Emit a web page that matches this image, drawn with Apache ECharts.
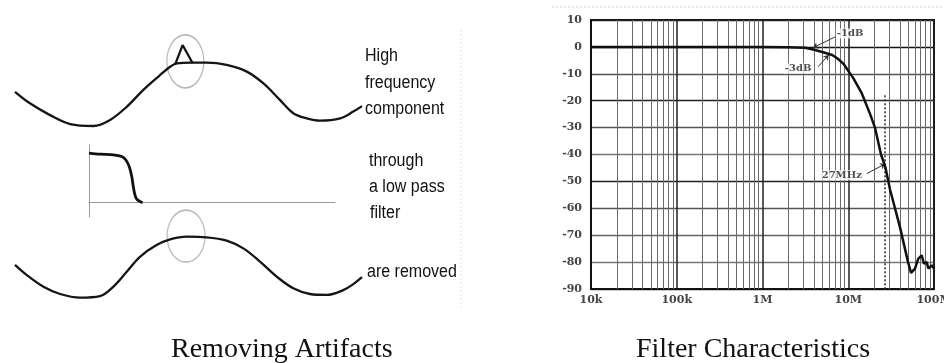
<!DOCTYPE html>
<html>
<head>
<meta charset="utf-8">
<script src="https://cdn.jsdelivr.net/npm/echarts@6/dist/echarts.min.js"></script>
<style>
  html, body { margin: 0; padding: 0; background: #fff; }
  #chart { width: 944px; height: 363px; }
</style>
</head>
<body>
<div id="chart"></div>
<script>
// ---- Left panel: slow wave with a short high-frequency spike on its crest ----
const noisyTime  = [0, 4.3, 10.1, 15.9, 22.6, 27.4, 32.2, 37.0, 41.8, 44.7, 46.6, 50.9, 55.2, 61.0, 66.8, 71.6, 76.4, 80.2, 84.1, 87.9, 93.7, 97.5, 100];
const noisyLevel = [0.07, -0.29, -0.66, -0.94, -1.0, -0.81, -0.40, 0.13, 0.59, 0.85, 0.96, 0.98, 0.98, 0.91, 0.70, 0.33, -0.19, -0.60, -0.76, -0.83, -0.76, -0.55, -0.38];
const spikeTime  = [46.1, 48.3, 51.2];
const spikeLevel = [0.91, 1.53, 0.96];

// Sketch of the low pass response (gain vs. frequency, arbitrary units)
const sketchFreq = [0, 0.45, 0.99, 1.33, 1.50, 1.64, 1.74, 1.80, 1.87, 1.94, 2.07, 2.18];
const sketchGain = [0.86, 0.84, 0.83, 0.80, 0.74, 0.62, 0.45, 0.28, 0.13, 0.06, 0.02, 0.0];

// Same wave after filtering: the spike is gone
const cleanTime  = [0, 3.4, 8.2, 13.0, 18.7, 24.5, 28.3, 32.2, 36.0, 40.8, 44.7, 49.5, 55.2, 61.0, 65.8, 70.6, 75.4, 80.2, 85.0, 89.8, 94.6, 97.5, 100];
const cleanLevel = [0.07, -0.27, -0.66, -0.90, -1.02, -0.97, -0.66, -0.16, 0.34, 0.73, 0.92, 1.01, 0.99, 0.88, 0.62, 0.18, -0.32, -0.71, -0.90, -0.93, -0.77, -0.57, -0.34];

// Circled regions (centre time, centre level)
const spikeCircle = [49.1, 1.02];
const cleanCircle = [49.3, 1.03];

// ---- Right panel: measured filter response ----
const respFreq = [1e4, 1e5, 1e6, 2e6, 3.13e6, 3.8e6, 5.1e6, 6.5e6, 7.5e6, 8.75e6, 11.5e6, 14.4e6, 17.9e6, 20.5e6, 24.1e6, 27e6, 30.7e6, 40.1e6, 49.8e6, 54e6, 60e6, 65.6e6, 71.9e6, 76.4e6, 82.2e6, 85.9e6, 94e6, 1e8];
const respGain = [0, 0, 0, -0.1, -0.3, -0.9, -2, -3, -4.3, -6.2, -11.7, -17.3, -24.8, -30, -40, -44.5, -53, -67, -80, -84, -82.4, -78.7, -77.5, -80.6, -80, -82.4, -81.2, -82.4];

const freqTickLabels = ['10k', '100k', '1M', '10M', '100M'];
const gainMin = -90, gainMax = 10, gainStep = 10;

// Callouts on the response curve
const noteText = ['-1dB', '-3dB', '27MHz'];
const noteAt   = [[10.5e6, 5], [2.6e6, -8], [8.4e6, -47.7]];
const leaderFrom = [[7.0e6, 3.7], [4.45e6, -7.4], [16.4e6, -47.1]];
const leaderTo   = [[3.9e6, -0.3], [5.9e6, -3], [27e6, -43.5]];
const markerFreq = 27e6;
const markerSpan = [-18, -90];

// log-paper minor grid: 2..9 in every decade
const minorFreqs = [];
for (let d = 1e4; d < 1e8; d *= 10) {
  for (let m = 2; m <= 9; m++) minorFreqs.push(m * d);
}

const pairs = (xs, ys) => xs.map((x, i) => [x, ys[i]]);

const chart = echarts.init(document.getElementById('chart'), null, { renderer: 'canvas' });

const sideText = (txt, x, y) => ({
  type: 'text', x: x, y: y, scaleX: 0.89,
  style: { text: txt, font: '18px "Liberation Sans", Arial, sans-serif', fill: '#111',
           align: 'left', verticalAlign: 'middle' }
});
const caption = (txt, x) => ({
  type: 'text', x: x, y: 350,
  style: { text: txt, font: '28px "Liberation Serif", "Times New Roman", serif', fill: '#111',
           align: 'left', verticalAlign: 'middle' }
});

const hiddenX = (g, max) => ({ gridIndex: g, type: 'value', min: 0, max: max, show: false });
const hiddenY = (g, min, max) => ({ gridIndex: g, type: 'value', min: min, max: max, show: false });

const waveLine = {
  type: 'line', symbol: 'none', smooth: 0.35, silent: true,
  lineStyle: { color: '#151515', width: 2.3 }
};
const circle = {
  type: 'scatter', symbol: 'circle', silent: true,
  itemStyle: { color: 'rgba(0,0,0,0)', borderColor: '#a8a8a8', borderWidth: 1.4 }
};

const option = {
  animation: false,
  backgroundColor: '#fff',
  grid: [
    { left: 15, top: 30, width: 347, height: 112, outerBoundsMode: 'none' },
    { left: 89, top: 145, width: 246, height: 72, outerBoundsMode: 'none' },
    { left: 15, top: 222, width: 347, height: 90, outerBoundsMode: 'none' },
    { left: 591, top: 20, width: 343, height: 269, show: true, outerBoundsMode: 'none',
      containLabel: false,
      backgroundColor: '#fff', borderColor: '#111', borderWidth: 2 }
  ],
  xAxis: [
    hiddenX(0, 100),
    { gridIndex: 1, type: 'value', min: 0, max: 10,
      axisLine: { show: true, onZero: true, lineStyle: { color: '#9a9a9a', width: 1 } },
      axisTick: { show: false }, axisLabel: { show: false }, splitLine: { show: false } },
    hiddenX(2, 100),
    { gridIndex: 3, type: 'log', logBase: 10, min: 1e4, max: 1e8,
      axisLine: { show: true, onZero: false, lineStyle: { color: '#111', width: 2 } },
      axisTick: { show: false },
      axisLabel: {
        margin: 6, fontSize: 11, fontWeight: 'bold', color: '#444',
        fontFamily: '"DejaVu Serif", serif',
        formatter: v => freqTickLabels[Math.round(Math.log10(v)) - 4] || ''
      },
      splitLine: { show: true, lineStyle: { color: '#222', width: 1.5 } }
    }
  ],
  yAxis: [
    hiddenY(0, -1.5, 2.0),
    { gridIndex: 1, type: 'value', min: -0.25, max: 1,
      axisLine: { show: true, onZero: true, lineStyle: { color: '#9a9a9a', width: 1 } },
      axisTick: { show: false }, axisLabel: { show: false }, splitLine: { show: false } },
    hiddenY(2, -1.5, 1.5),
    { gridIndex: 3, type: 'value', min: gainMin, max: gainMax, interval: gainStep,
      axisLine: { show: true, onZero: false, lineStyle: { color: '#111', width: 2 } },
      axisTick: { show: false },
      axisLabel: { margin: 9, fontSize: 11, fontWeight: 'bold', color: '#444',
                   fontFamily: '"DejaVu Serif", serif' },
      splitLine: { show: true, lineStyle: {
        color: ['#333', '#777', '#666', '#555', '#222', '#777', '#555', '#222', '#555', '#111', '#222'],
        width: 1.3 } }
    }
  ],
  series: [
    Object.assign({}, waveLine, { name: 'signal', xAxisIndex: 0, yAxisIndex: 0,
      data: pairs(noisyTime, noisyLevel) }),
    Object.assign({}, waveLine, { name: 'spike', xAxisIndex: 0, yAxisIndex: 0, smooth: false,
      data: pairs(spikeTime, spikeLevel) }),
    Object.assign({}, circle, { name: 'spike ring', xAxisIndex: 0, yAxisIndex: 0,
      symbolSize: [37, 53], data: [spikeCircle] }),
    { type: 'line', name: 'low pass', xAxisIndex: 1, yAxisIndex: 1, symbol: 'none', silent: true,
      smooth: 0.3, lineStyle: { color: '#111', width: 2.8 },
      data: pairs(sketchFreq, sketchGain) },
    Object.assign({}, waveLine, { name: 'filtered', xAxisIndex: 2, yAxisIndex: 2,
      data: pairs(cleanTime, cleanLevel) }),
    Object.assign({}, circle, { name: 'clean ring', xAxisIndex: 2, yAxisIndex: 2,
      symbolSize: [38, 52], data: [cleanCircle] }),

    // minor log grid lines
    { type: 'line', name: 'minor grid', xAxisIndex: 3, yAxisIndex: 3, data: [], silent: true, z: 1,
      markLine: { silent: true, symbol: ['none', 'none'], label: { show: false },
                  lineStyle: { color: '#6a6a6a', width: 1, type: 'solid' },
                  data: minorFreqs.map(f => ({ xAxis: f })) } },

    { type: 'line', name: 'response', xAxisIndex: 3, yAxisIndex: 3, symbol: 'none', silent: true,
      z: 5, lineStyle: { color: '#111', width: 2.5 },
      data: pairs(respFreq, respGain),
      markLine: { silent: true, symbol: ['none', 'none'], label: { show: false },
                  lineStyle: { color: '#333', width: 1.6, type: [2, 2] },
                  data: [[{ coord: [markerFreq, markerSpan[0]] }, { coord: [markerFreq, markerSpan[1]] }]] } },

    { type: 'scatter', name: 'notes', xAxisIndex: 3, yAxisIndex: 3, silent: true, z: 6,
      symbolSize: 1, itemStyle: { color: 'rgba(0,0,0,0)' },
      data: noteAt,
      label: { show: true, position: 'inside', formatter: p => noteText[p.dataIndex],
               fontFamily: '"DejaVu Serif", serif', fontWeight: 'bold', fontSize: 10,
               color: '#222', backgroundColor: '#fff', padding: [0, 1] },
      markLine: { silent: true, symbol: ['none', 'arrow'], symbolSize: 5, label: { show: false },
                  lineStyle: { color: '#333', width: 1, type: 'solid' },
                  data: leaderFrom.map((p, i) => [{ coord: p }, { coord: leaderTo[i] }]) } }
  ],
  graphic: [
    sideText('High', 365, 56),
    sideText('frequency', 365, 83),
    sideText('component', 365, 109),
    sideText('through', 369, 161),
    sideText('a low pass', 369, 187.5),
    sideText('filter', 370, 213),
    sideText('are removed', 367, 272),
    caption('Removing Artifacts', 171),
    caption('Filter Characteristics', 636),
    { type: 'line', silent: true, shape: { x1: 552, y1: 7, x2: 944, y2: 7 },
      style: { stroke: '#d4d4d4', lineWidth: 1, lineDash: [2, 2] } },
    { type: 'line', silent: true, shape: { x1: 461, y1: 30, x2: 461, y2: 308 },
      style: { stroke: '#e2e2e2', lineWidth: 1, lineDash: [2, 2] } }
  ]
};

chart.setOption(option);
</script>
</body>
</html>
